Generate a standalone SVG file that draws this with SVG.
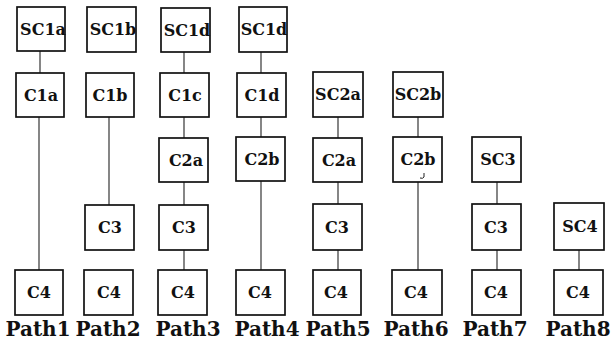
<svg xmlns="http://www.w3.org/2000/svg" width="611" height="353" viewBox="0 0 611 353">
  <style>
    .box rect { fill: #ffffff; stroke: #111111; stroke-width: 1.7; }
    .box text { font-family: "DejaVu Serif", "Liberation Serif", serif; font-weight: bold; font-size: 16px; fill: #111111; text-anchor: middle; }
    .wire line { stroke: #222222; stroke-width: 1.1; }
    .label { font-family: "DejaVu Serif", "Liberation Serif", serif; font-weight: bold; font-size: 20px; fill: #111111; text-anchor: middle; }
  </style>
  <rect width="611" height="353" fill="#ffffff"/>

  <!-- connectors -->
  <g id="connectors" class="wire">
    <line x1="40" y1="51" x2="40" y2="73"/>
    <line x1="39" y1="117" x2="39" y2="270"/>
    <line x1="109" y1="117" x2="109" y2="205"/>
    <line x1="184" y1="52" x2="184" y2="73"/>
    <line x1="184" y1="117" x2="184" y2="138"/>
    <line x1="184" y1="182" x2="184" y2="205"/>
    <line x1="184" y1="250" x2="184" y2="270"/>
    <line x1="261" y1="52" x2="261" y2="73"/>
    <line x1="261" y1="117" x2="261" y2="137"/>
    <line x1="261" y1="181" x2="261" y2="270"/>
    <line x1="338" y1="117" x2="338" y2="138"/>
    <line x1="338" y1="182" x2="338" y2="204"/>
    <line x1="338" y1="250" x2="338" y2="270"/>
    <line x1="418" y1="117" x2="418" y2="137"/>
    <line x1="418" y1="182" x2="418" y2="270"/>
    <line x1="497" y1="182" x2="497" y2="204"/>
    <line x1="497" y1="250" x2="497" y2="270"/>
    <line x1="579" y1="250" x2="579" y2="270"/>
  </g>

  <!-- Path1 -->
  <g id="p1-SC1a" class="box"><rect x="17" y="7" width="48" height="44"/><text x="43" y="35">SC1a</text></g>
  <g id="p1-C1a" class="box"><rect x="16" y="73" width="48" height="44"/><text x="41" y="101">C1a</text></g>
  <g id="p1-C4" class="box"><rect x="15" y="270" width="48" height="45"/><text x="39" y="298">C4</text></g>

  <!-- Path2 -->
  <g id="p2-SC1b" class="box"><rect x="87" y="7" width="49" height="45"/><text x="113" y="35">SC1b</text></g>
  <g id="p2-C1b" class="box"><rect x="86" y="73" width="48" height="44"/><text x="110" y="101">C1b</text></g>
  <g id="p2-C3" class="box"><rect x="85" y="205" width="49" height="45"/><text x="110" y="233">C3</text></g>
  <g id="p2-C4" class="box"><rect x="84" y="270" width="49" height="45"/><text x="109" y="298">C4</text></g>

  <!-- Path3 -->
  <g id="p3-SC1d" class="box"><rect x="161" y="8" width="49" height="44"/><text x="187" y="36">SC1d</text></g>
  <g id="p3-C1c" class="box"><rect x="160" y="73" width="49" height="44"/><text x="185" y="101">C1c</text></g>
  <g id="p3-C2a" class="box"><rect x="159" y="138" width="49" height="44"/><text x="186" y="166">C2a</text></g>
  <g id="p3-C3" class="box"><rect x="159" y="205" width="49" height="45"/><text x="184" y="233">C3</text></g>
  <g id="p3-C4" class="box"><rect x="158" y="270" width="49" height="45"/><text x="183" y="298">C4</text></g>

  <!-- Path4 -->
  <g id="p4-SC1d" class="box"><rect x="239" y="7" width="48" height="45"/><text x="264" y="35">SC1d</text></g>
  <g id="p4-C1d" class="box"><rect x="237" y="73" width="49" height="44"/><text x="262" y="101">C1d</text></g>
  <g id="p4-C2b" class="box"><rect x="236" y="137" width="49" height="44"/><text x="262" y="165">C2b</text></g>
  <g id="p4-C4" class="box"><rect x="236" y="270" width="49" height="45"/><text x="260" y="298">C4</text></g>

  <!-- Path5 -->
  <g id="p5-SC2a" class="box"><rect x="313" y="72" width="50" height="45"/><text x="338" y="100">SC2a</text></g>
  <g id="p5-C2a" class="box"><rect x="313" y="138" width="49" height="44"/><text x="339" y="166">C2a</text></g>
  <g id="p5-C3" class="box"><rect x="313" y="204" width="49" height="46"/><text x="337" y="233">C3</text></g>
  <g id="p5-C4" class="box"><rect x="313" y="270" width="48" height="45"/><text x="336" y="298">C4</text></g>

  <!-- Path6 -->
  <g id="p6-SC2b" class="box"><rect x="393" y="72" width="50" height="45"/><text x="418" y="100">SC2b</text></g>
  <g id="p6-C2b" class="box"><rect x="393" y="137" width="49" height="45"/><text x="418" y="165">C2b</text>
    <path d="M424 173 L424 177 Q423 179 420 178" fill="none" stroke="#222222" stroke-width="1"/></g>
  <g id="p6-C4" class="box"><rect x="392" y="270" width="50" height="45"/><text x="416" y="298">C4</text></g>

  <!-- Path7 -->
  <g id="p7-SC3" class="box"><rect x="472" y="137" width="49" height="45"/><text x="498" y="165">SC3</text></g>
  <g id="p7-C3" class="box"><rect x="472" y="204" width="49" height="46"/><text x="496" y="233">C3</text></g>
  <g id="p7-C4" class="box"><rect x="472" y="270" width="49" height="45"/><text x="496" y="298">C4</text></g>

  <!-- Path8 -->
  <g id="p8-SC4" class="box"><rect x="554" y="203" width="50" height="47"/><text x="580" y="232">SC4</text></g>
  <g id="p8-C4" class="box"><rect x="554" y="270" width="49" height="45"/><text x="578" y="298">C4</text></g>

  <!-- path labels -->
  <g id="labels">
    <text class="label" x="38" y="336">Path1</text>
    <text class="label" x="108" y="336">Path2</text>
    <text class="label" x="188" y="336">Path3</text>
    <text class="label" x="267" y="336">Path4</text>
    <text class="label" x="338" y="336">Path5</text>
    <text class="label" x="416" y="336">Path6</text>
    <text class="label" x="495" y="336">Path7</text>
    <text class="label" x="578" y="336">Path8</text>
  </g>
</svg>
